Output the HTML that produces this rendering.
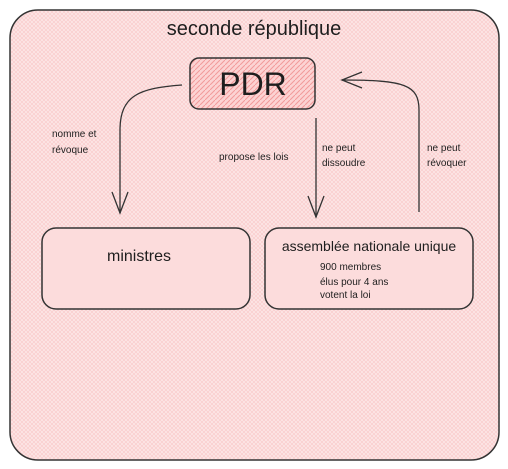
<!DOCTYPE html>
<html><head><meta charset="utf-8"><style>
html,body{margin:0;padding:0;background:#fff;width:508px;height:469px;overflow:hidden}
svg{display:block}
text{font-family:"Liberation Sans",sans-serif;fill:#1e1e1e}
</style></head><body>
<svg width="508" height="469" viewBox="0 0 508 469" xmlns="http://www.w3.org/2000/svg">
<defs>
<pattern id="h" width="4" height="4" patternUnits="userSpaceOnUse">
<rect width="4" height="4" fill="#fde6e6"/>
<path d="M0 4L4 0M0 0L4 4" stroke="#f9cccc" stroke-width="0.7"/>
</pattern>
<pattern id="p" width="5" height="5" patternUnits="userSpaceOnUse">
<rect width="5" height="5" fill="#fcd3d3"/>
<path d="M0 5L5 0" stroke="#f29a9a" stroke-width="1"/>
</pattern>
</defs>
<rect x="10" y="10" width="489" height="450" rx="28" fill="url(#h)" stroke="#333" stroke-width="1.5"/>
<text x="254" y="35" font-size="20" text-anchor="middle">seconde république</text>
<rect x="190" y="58" width="125" height="51" rx="9" fill="url(#p)" stroke="#333" stroke-width="1.5"/>
<text x="253" y="95" font-size="32" text-anchor="middle">PDR</text>
<rect x="42" y="228" width="208" height="81" rx="14" fill="#fcdcdc" stroke="#333" stroke-width="1.5"/>
<text x="139" y="261" font-size="16" text-anchor="middle">ministres</text>
<rect x="265" y="228" width="208" height="81" rx="14" fill="#fcdcdc" stroke="#333" stroke-width="1.5"/>
<text x="369" y="251" font-size="14" text-anchor="middle">assemblée nationale unique</text>
<text x="320" y="270" font-size="10">900 membres</text>
<text x="320" y="285" font-size="10">élus pour 4 ans</text>
<text x="320" y="298" font-size="10">votent la loi</text>
<g fill="none" stroke="#333" stroke-width="1.3">
<path d="M182 85C140 88 120 95 120 130L120 213"/>
<path d="M112 192L120 213L128 192"/>
<path d="M316 118L316 217"/>
<path d="M308 196L316 217L324 196"/>
<path d="M419 212L419 110C419 85 405 80 342 80"/>
<path d="M362 72L342 80L362 88"/>
</g>
<text x="52" y="137" font-size="10">nomme et</text>
<text x="52" y="153" font-size="10">révoque</text>
<text x="219" y="160" font-size="10">propose les lois</text>
<text x="322" y="151" font-size="10">ne peut</text>
<text x="322" y="166" font-size="10">dissoudre</text>
<text x="427" y="151" font-size="10">ne peut</text>
<text x="427" y="166" font-size="10">révoquer</text>
</svg>
</body></html>
